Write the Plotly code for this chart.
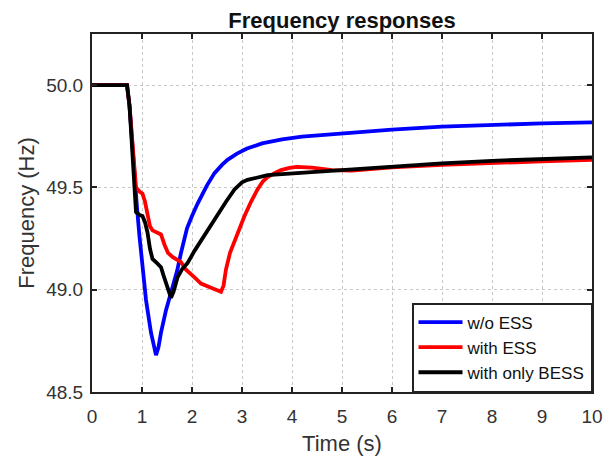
import plotly.graph_objects as go

# ---- data ----
t_wo = [0, 0.7, 0.75, 0.8, 0.85, 0.9, 0.95, 1.0, 1.08, 1.18, 1.28, 1.33, 1.38, 1.48, 1.6, 1.7,
        1.78, 1.9, 2.0, 2.11, 2.3, 2.45, 2.6, 2.71, 2.9, 3.1, 3.4, 3.8, 4.2, 5.0, 6.0, 7.0, 8.0, 9.0, 10.0]
f_wo = [50.0, 50.0, 49.9, 49.72, 49.55, 49.4, 49.26, 49.14, 48.95, 48.79, 48.68, 48.72, 48.79, 48.90,
        49.0, 49.09, 49.18, 49.3, 49.36, 49.42, 49.51, 49.57, 49.61, 49.635, 49.665, 49.69, 49.715,
        49.735, 49.748, 49.765, 49.783, 49.797, 49.806, 49.813, 49.818]

t_ess = [0, 0.7, 0.75, 0.8, 0.85, 0.88, 0.95, 1.01, 1.06, 1.11, 1.16, 1.21, 1.3, 1.38, 1.45, 1.52,
         1.61, 1.7, 1.78, 1.87, 1.95, 2.05, 2.18, 2.3, 2.38, 2.48, 2.58, 2.63, 2.68, 2.76, 2.85, 2.95,
         3.05, 3.18, 3.31, 3.42, 3.51, 3.65, 3.78, 3.95, 4.1, 4.4, 4.8, 5.2, 5.6, 6.0, 7.0, 8.0, 9.0, 10.0]
f_ess = [50.0, 50.0, 49.9, 49.75, 49.58, 49.50, 49.48, 49.47, 49.43, 49.37, 49.31, 49.29, 49.28, 49.27,
         49.22, 49.18, 49.16, 49.145, 49.135, 49.10, 49.08, 49.06, 49.03, 49.02, 49.01, 49.0, 48.99,
         49.02, 49.10, 49.18, 49.24, 49.30, 49.36, 49.43, 49.49, 49.53, 49.55, 49.57, 49.585, 49.595,
         49.60, 49.597, 49.585, 49.582, 49.59, 49.598, 49.61, 49.62, 49.628, 49.635]

t_bess = [0, 0.7, 0.75, 0.8, 0.85, 0.88, 0.95, 1.01, 1.06, 1.11, 1.16, 1.21, 1.3, 1.38, 1.43, 1.48,
          1.53, 1.58, 1.63, 1.71, 1.8, 1.91, 2.05, 2.18, 2.35, 2.51, 2.68, 2.85, 3.0, 3.11, 3.3, 3.51,
          3.8, 4.2, 5.0, 6.0, 7.0, 8.0, 9.0, 10.0]
f_bess = [50.0, 50.0, 49.9, 49.72, 49.50, 49.38, 49.365, 49.36, 49.33, 49.28, 49.2, 49.15, 49.13, 49.11,
          49.07, 49.03, 48.99, 48.96, 48.99, 49.06, 49.10, 49.13, 49.19, 49.24, 49.31, 49.37, 49.43,
          49.49, 49.525, 49.537, 49.55, 49.56, 49.565, 49.572, 49.585, 49.603, 49.618, 49.63, 49.64, 49.647]

names = ["w/o ESS", "with ESS", "with only BESS"]
colors = ["#0000FF", "#FF0000", "#000000"]
x_ticks = list(range(0, 11))
y_ticks = [48.5, 49.0, 49.5, 50.0]

FONT = "Liberation Sans, Arial, sans-serif"

fig = go.Figure()
for t, f, n, c in zip([t_wo, t_ess, t_bess], [f_wo, f_ess, f_bess], names, colors):
    fig.add_trace(go.Scatter(x=t, y=f, mode="lines", name=n,
                             line=dict(color=c, width=3.8)))

axis_common = dict(
    automargin=False,
    showline=True, linecolor="#222222", linewidth=2, mirror="ticks",
    ticks="inside", ticklen=5, tickwidth=2, tickcolor="#222222",
    showgrid=True, gridcolor="#c8c8c8", griddash="dot", gridwidth=1.3,
    zeroline=False,
    tickfont=dict(family=FONT, size=19, color="#333333"),
)

fig.update_xaxes(range=[0, 10], tickvals=x_ticks, ticklabelstandoff=6,
                 title=dict(text="Time (s)", font=dict(family=FONT, size=22, color="#333333"), standoff=10),
                 **axis_common)
fig.update_yaxes(range=[48.5, 50.25], tickvals=y_ticks, tickformat=".1f", ticklabelstandoff=3,
                 title=dict(text="Frequency (Hz)", font=dict(family=FONT, size=22, color="#333333"), standoff=6),
                 **axis_common)

# page body adds an 8px offset; figure is sized/margined to compensate
fig.update_layout(
    width=603, height=449,
    margin=dict(l=84, r=19, t=26, b=65, autoexpand=False),
    paper_bgcolor="white", plot_bgcolor="white",
    title=dict(text="<b>Frequency responses</b>", xref="paper", x=0.5, xanchor="center",
               y=0.972, yanchor="middle",
               font=dict(family=FONT, size=22, color="#111111")),
    legend=dict(x=1, y=0, xanchor="right", yanchor="bottom",
                bgcolor="white", bordercolor="#222222", borderwidth=1.5,
                font=dict(family=FONT, size=17, color="#111111"),
                itemwidth=44, entrywidth=148, entrywidthmode="pixels"),
    showlegend=True,
)

fig.write_html("out.html")
